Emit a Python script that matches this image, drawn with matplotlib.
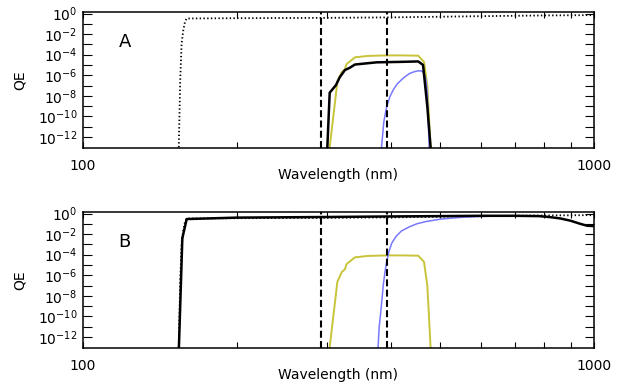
import numpy as np
import matplotlib
matplotlib.use("Agg")
import matplotlib.pyplot as plt
from matplotlib.ticker import NullFormatter

plt.rcParams['lines.scale_dashes'] = False
plt.rcParams['font.family'] = ['DejaVu Sans']

# dotted curve (same in both panels)
wl_dot = [154.0, 155.0, 156.0, 157.2, 158.4, 159.6, 200, 300, 400, 600, 800, 1000]
qe_dot = [1e-13, 3e-7, 1.3e-3, 0.025, 0.16, 0.33, 0.35, 0.38, 0.42, 0.55, 0.65, 0.7]

# filter curve (yellow, both panels)
wl_yel = [304, 314.7, 320.9, 325.6, 328, 340.6, 360, 393, 420, 453, 465, 472, 479]
qe_yel = [1e-13, 2.3e-7, 2.0e-6, 3.8e-6, 1.2e-5, 5.5e-5, 7.5e-5, 8.5e-5, 8.5e-5, 8e-5, 2e-5, 1e-7, 1e-13]

# panel A
wl_a_blk = [300.8, 304, 312.7, 318, 325.6, 333, 340.6, 375.6, 420, 453, 463, 472, 479]
qe_a_blk = [1e-13, 2e-8, 1.1e-7, 6.3e-7, 3.2e-6, 5.4e-6, 1.1e-5, 1.8e-5, 2e-5, 2.2e-5, 1e-5, 9e-10, 1e-13]
wl_a_blu = [384, 388, 393, 399, 405, 412, 420, 428, 436, 445, 453, 460, 465, 469, 472, 476]
qe_a_blu = [1e-13, 3e-11, 9e-10, 9e-9, 4e-8, 1.4e-7, 3.6e-7, 8e-7, 1.5e-6, 2.2e-6, 2.7e-6, 2.6e-6, 1.6e-6, 4e-7, 1.7e-8, 1e-13]

# panel B
wl_b_blk = [154.1, 156.5, 159.6, 200, 300, 400, 500, 600, 700, 780, 820, 860, 900, 940, 970, 1000]
qe_b_blk = [1e-13, 4e-3, 0.29, 0.40, 0.46, 0.52, 0.56, 0.6, 0.6, 0.56, 0.45, 0.33, 0.2, 0.1, 0.065, 0.06]
wl_b_blu = [378, 380, 382.4, 385, 387, 390, 393, 397, 402, 410, 420, 435, 450, 470, 500, 530, 560, 600, 650, 700]
qe_b_blu = [1e-13, 1e-11, 1.9e-10, 6e-9, 1.1e-7, 2e-6, 2.1e-5, 2e-4, 1.3e-3, 6e-3, 0.02, 0.05, 0.1, 0.17, 0.28, 0.37, 0.45, 0.52, 0.57, 0.6]

cut_lines = [292, 394]

YELLOW = '#c8c43a'
BLUE = '#7878ff'


def style_axis(ax, label):
    ax.set_xscale('log')
    ax.set_yscale('log')
    ax.set_xlim(100, 1000)
    ax.set_ylim(8.5e-14, 1.4)
    ax.set_xticks([100, 1000])
    ax.set_xticklabels(['100', '1000'])
    ax.set_xticks([200, 300, 400, 500, 600, 700, 800, 900], minor=True)
    ax.xaxis.set_minor_formatter(NullFormatter())
    ax.set_yticks(10.0 ** np.arange(-12, 1, 2))
    ax.set_yticklabels([r'$10^{%d}$' % e for e in range(-12, 1, 2)])
    ax.set_yticks(10.0 ** np.arange(-11, 0, 2), minor=True)
    ax.yaxis.set_minor_formatter(NullFormatter())
    ax.tick_params(axis='x', which='both', direction='in', top=True, length=4.3,
                   width=0.8, pad=8, labelsize=10)
    ax.tick_params(axis='y', which='both', direction='in', right=True, length=6.5,
                   width=0.8, pad=4, labelsize=10)
    for s in ax.spines.values():
        s.set_linewidth(1.1)
    ax.set_xlabel('Wavelength (nm)', fontsize=10, labelpad=-4)
    ax.set_ylabel('QE', fontsize=10, labelpad=8)
    ax.text(0.07, 0.74, label, transform=ax.transAxes, fontsize=13)
    for w in cut_lines:
        ax.axvline(w, color='black', lw=1.5, dashes=(5, 2.4))


fig = plt.figure(figsize=(6.19, 3.85), dpi=100)
ax1 = fig.add_axes([0.134, 0.6156, 0.8255, 0.3532])
ax2 = fig.add_axes([0.134, 0.0961, 0.8255, 0.3532])

dot_style = dict(color='black', lw=1.3, linestyle=(0, (1.0, 1.7)))

ax1.plot(wl_dot, qe_dot, **dot_style)
ax1.plot(wl_yel, qe_yel, color=YELLOW, lw=1.4)
ax1.plot(wl_a_blu, qe_a_blu, color=BLUE, lw=1.1)
ax1.plot(wl_a_blk, qe_a_blk, color='black', lw=1.8)
style_axis(ax1, 'A')

ax2.plot(wl_dot, qe_dot, **dot_style)
ax2.plot(wl_yel, qe_yel, color=YELLOW, lw=1.4)
ax2.plot(wl_b_blu, qe_b_blu, color=BLUE, lw=1.1)
ax2.plot(wl_b_blk, qe_b_blk, color='black', lw=1.8)
style_axis(ax2, 'B')

fig.savefig('out.png', dpi=100)
